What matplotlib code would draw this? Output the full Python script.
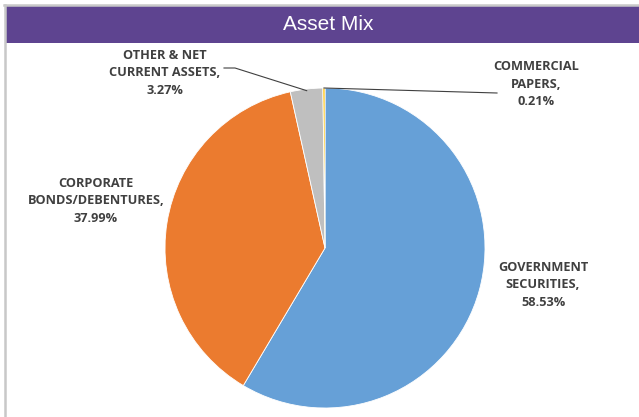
import numpy as np
import matplotlib.pyplot as plt
from matplotlib.patches import Rectangle
from matplotlib.lines import Line2D

# data
categories = ["GOVERNMENT\nSECURITIES,", "CORPORATE\nBONDS/DEBENTURES,",
              "OTHER & NET\nCURRENT ASSETS,", "COMMERCIAL\nPAPERS,"]
values = [58.53, 37.99, 3.27, 0.21]
colors = ["#66A0D7", "#EB7B2F", "#BFBFBF", "#FFC000"]

W, H = 639, 417
fig = plt.figure(figsize=(W / 100, H / 100), dpi=100)
fig.patch.set_facecolor("white")

def fx(x):
    return x / W

def fy(y):
    return 1 - y / H

# frame (top and left only) and title bar
fig.add_artist(Line2D([fx(5), fx(5)], [0, fy(5)], transform=fig.transFigure,
                      color="#C8C8C8", linewidth=1.8))
fig.add_artist(Line2D([fx(4), 1], [fy(5), fy(5)], transform=fig.transFigure,
                      color="#C8C8C8", linewidth=1.8))
fig.add_artist(Rectangle((fx(6), fy(43)), 1 - fx(6), fy(6.5) - fy(43),
                         transform=fig.transFigure, facecolor="#5E4490", edgecolor="none"))
fig.text(fx(328), fy(25), "Asset Mix", color="white", fontsize=15,
         family="Liberation Sans", ha="center", va="center")

# pie
cx, cy, r = 325, 248, 160
ax = fig.add_axes([fx(cx - r), fy(cy + r), 2 * r / W, 2 * r / H])
wedges, _ = ax.pie(values, colors=colors, startangle=90, counterclock=False,
                   radius=1, wedgeprops=dict(edgecolor="white", linewidth=0.6))
ax.set_xlim(-1, 1)
ax.set_ylim(-1, 1)
ax.set_aspect("equal")
ax.axis("off")

lab_kw = dict(fontsize=9.2, fontweight="bold", family="Open Sans", color="#404040",
              ha="center", va="center", linespacing=1.42)

label_pos = [(543, 285), (96, 201), (165, 73), (536, 84)]
for cat, val, (lx, ly) in zip(categories, values, label_pos):
    fig.text(fx(lx), fy(ly), f"{cat}\n{val:.2f}%", **lab_kw)

# leader lines for the small slices
def edge_point(w):
    ang = np.deg2rad((w.theta1 + w.theta2) / 2)
    return np.cos(ang), np.sin(ang)

def to_data(px, py):
    return ax.transData.inverted().transform(fig.transFigure.transform((fx(px), fy(py))))

# other & net current assets
ex, ey = edge_point(wedges[2])
p0 = to_data(224, 68)
p1 = to_data(235, 68)
ax.plot([p0[0], p1[0], ex * 0.99], [p0[1], p1[1], ey * 0.99], color="#404040",
        linewidth=0.8, clip_on=False)

# commercial papers
ex, ey = edge_point(wedges[3])
p0 = to_data(497, 93)
ax.plot([ex, p0[0]], [ey, p0[1]], color="#404040", linewidth=0.8, clip_on=False)

fig.savefig("out.png", dpi=100, facecolor="white")
